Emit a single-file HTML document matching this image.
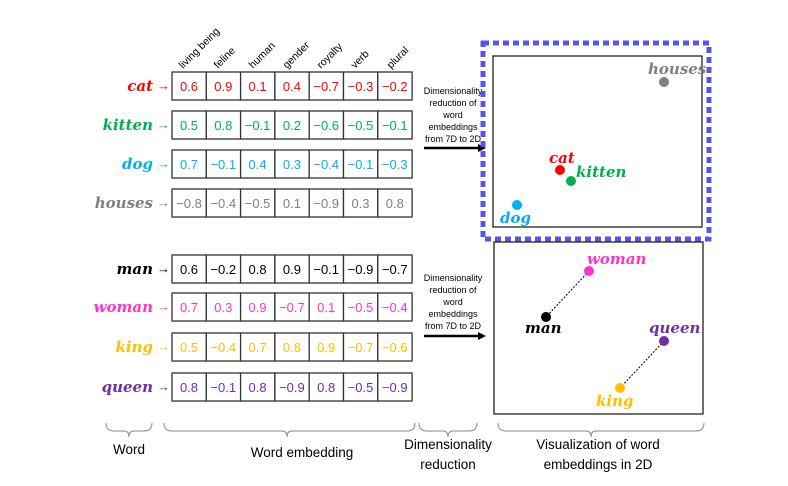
<!DOCTYPE html>
<html><head><meta charset="utf-8"><style>
body{margin:0;background:#fff}
svg{display:block}
.w{font-family:"DejaVu Serif","Liberation Serif",serif;font-weight:bold;font-style:italic;font-size:15px}
.n{font-family:"Liberation Sans",sans-serif;font-size:13px}
.h{font-family:"Liberation Sans",sans-serif;font-size:10.5px}
.s{font-family:"Liberation Sans",sans-serif;font-size:9px}
.l{font-family:"Liberation Sans",sans-serif;font-size:13.5px}
.c rect{fill:#fff;stroke:#333;stroke-width:1.3}
</style></head><body>
<svg width="788" height="486" viewBox="0 0 788 486" xmlns="http://www.w3.org/2000/svg">
<defs>
<g id="cells" class="c">
<rect x="172" y="0" width="34.3" height="28"/><rect x="206.3" y="0" width="34.3" height="28"/><rect x="240.6" y="0" width="34.3" height="28"/><rect x="274.9" y="0" width="34.3" height="28"/><rect x="309.2" y="0" width="34.3" height="28"/><rect x="343.5" y="0" width="34.3" height="28"/><rect x="377.8" y="0" width="34.3" height="28"/>
</g>
</defs>
<g class="h" fill="#000">
<text transform="translate(183,69) rotate(-45)">living being</text>
<text transform="translate(218,69) rotate(-45)">feline</text>
<text transform="translate(253,69) rotate(-45)">human</text>
<text transform="translate(287,69) rotate(-45)">gender</text>
<text transform="translate(321,69) rotate(-45)">royalty</text>
<text transform="translate(355,69) rotate(-45)">verb</text>
<text transform="translate(391,69) rotate(-45)">plural</text>
</g>

<g transform="translate(0,72)" fill="#ff0000"><use href="#cells"/>
<text class="w" x="153" y="19" text-anchor="end">cat</text><text class="n" x="157" y="18">→</text>
<g class="n" text-anchor="middle"><text x="189" y="19">0.6</text><text x="223.3" y="19">0.9</text><text x="257.6" y="19">0.1</text><text x="291.9" y="19">0.4</text><text x="326.2" y="19">−0.7</text><text x="360.5" y="19">−0.3</text><text x="394.8" y="19">−0.2</text></g></g>

<g transform="translate(0,111)" fill="#00b050"><use href="#cells"/>
<text class="w" x="153" y="19" text-anchor="end">kitten</text><text class="n" x="157" y="18">→</text>
<g class="n" text-anchor="middle"><text x="189" y="19">0.5</text><text x="223.3" y="19">0.8</text><text x="257.6" y="19">−0.1</text><text x="291.9" y="19">0.2</text><text x="326.2" y="19">−0.6</text><text x="360.5" y="19">−0.5</text><text x="394.8" y="19">−0.1</text></g></g>

<g transform="translate(0,150)" fill="#00b0f0"><use href="#cells"/>
<text class="w" x="153" y="19" text-anchor="end">dog</text><text class="n" x="157" y="18">→</text>
<g class="n" text-anchor="middle"><text x="189" y="19">0.7</text><text x="223.3" y="19">−0.1</text><text x="257.6" y="19">0.4</text><text x="291.9" y="19">0.3</text><text x="326.2" y="19">−0.4</text><text x="360.5" y="19">−0.1</text><text x="394.8" y="19">−0.3</text></g></g>

<g transform="translate(0,189)" fill="#808080"><use href="#cells"/>
<text class="w" x="153" y="19" text-anchor="end">houses</text><text class="n" x="157" y="18">→</text>
<g class="n" text-anchor="middle"><text x="189" y="19">−0.8</text><text x="223.3" y="19">−0.4</text><text x="257.6" y="19">−0.5</text><text x="291.9" y="19">0.1</text><text x="326.2" y="19">−0.9</text><text x="360.5" y="19">0.3</text><text x="394.8" y="19">0.8</text></g></g>

<g transform="translate(0,255)" fill="#000"><use href="#cells"/>
<text class="w" x="153" y="19" text-anchor="end">man</text><text class="n" x="157" y="18">→</text>
<g class="n" text-anchor="middle"><text x="189" y="19">0.6</text><text x="223.3" y="19">−0.2</text><text x="257.6" y="19">0.8</text><text x="291.9" y="19">0.9</text><text x="326.2" y="19">−0.1</text><text x="360.5" y="19">−0.9</text><text x="394.8" y="19">−0.7</text></g></g>

<g transform="translate(0,293)" fill="#ff33cc"><use href="#cells"/>
<text class="w" x="153" y="19" text-anchor="end">woman</text><text class="n" x="157" y="18">→</text>
<g class="n" text-anchor="middle"><text x="189" y="19">0.7</text><text x="223.3" y="19">0.3</text><text x="257.6" y="19">0.9</text><text x="291.9" y="19">−0.7</text><text x="326.2" y="19">0.1</text><text x="360.5" y="19">−0.5</text><text x="394.8" y="19">−0.4</text></g></g>

<g transform="translate(0,333)" fill="#ffc000"><use href="#cells"/>
<text class="w" x="153" y="19" text-anchor="end">king</text><text class="n" x="157" y="18">→</text>
<g class="n" text-anchor="middle"><text x="189" y="19">0.5</text><text x="223.3" y="19">−0.4</text><text x="257.6" y="19">0.7</text><text x="291.9" y="19">0.8</text><text x="326.2" y="19">0.9</text><text x="360.5" y="19">−0.7</text><text x="394.8" y="19">−0.6</text></g></g>

<g transform="translate(0,373)" fill="#7030a0"><use href="#cells"/>
<text class="w" x="153" y="19" text-anchor="end">queen</text><text class="n" x="157" y="18">→</text>
<g class="n" text-anchor="middle"><text x="189" y="19">0.8</text><text x="223.3" y="19">−0.1</text><text x="257.6" y="19">0.8</text><text x="291.9" y="19">−0.9</text><text x="326.2" y="19">0.8</text><text x="360.5" y="19">−0.5</text><text x="394.8" y="19">−0.9</text></g></g>

<g class="s" fill="#000" text-anchor="middle">
<text x="453" y="94">Dimensionality</text><text x="453" y="106">reduction of</text><text x="453" y="118">word</text><text x="453" y="130">embeddings</text><text x="453" y="142">from 7D to 2D</text>
<text x="453" y="281">Dimensionality</text><text x="453" y="293">reduction of</text><text x="453" y="305">word</text><text x="453" y="317">embeddings</text><text x="453" y="329">from 7D to 2D</text>
</g>
<line x1="424" y1="148" x2="480" y2="148" stroke="#000" stroke-width="2.5"/>
<polygon points="478,144 486,148 478,152" fill="#000"/>
<line x1="424" y1="336" x2="480" y2="336" stroke="#000" stroke-width="2.5"/>
<polygon points="478,332 486,336 478,340" fill="#000"/>

<rect x="483" y="43" width="226" height="196" fill="none" stroke="#5555ee" stroke-width="5" stroke-dasharray="6,4"/>
<rect x="493" y="56" width="209" height="171" fill="#fff" stroke="#222" stroke-width="1.3"/>
<circle cx="664" cy="82" r="5" fill="#808080"/><text class="w" x="648" y="74" fill="#808080">houses</text>
<circle cx="560" cy="170" r="5" fill="#ff0000"/><text class="w" x="549" y="163" fill="#ff0000">cat</text>
<circle cx="571" cy="181" r="5" fill="#00b050"/><text class="w" x="576" y="177" fill="#00b050">kitten</text>
<circle cx="517" cy="205" r="5" fill="#00b0f0"/><text class="w" x="500" y="223" fill="#00b0f0">dog</text>

<rect x="494" y="242" width="209" height="172" fill="#fff" stroke="#222" stroke-width="1.3"/>
<line x1="589" y1="271" x2="546" y2="317" stroke="#000" stroke-dasharray="2,1.5"/>
<line x1="664" y1="341" x2="620" y2="388" stroke="#000" stroke-dasharray="2,1.5"/>
<circle cx="589" cy="271" r="5" fill="#ff33cc"/><text class="w" x="587" y="264" fill="#ff33cc">woman</text>
<circle cx="546" cy="317" r="5" fill="#000"/><text class="w" x="525" y="333" fill="#000">man</text>
<circle cx="664" cy="341" r="5" fill="#7030a0"/><text class="w" x="649" y="333" fill="#7030a0">queen</text>
<circle cx="620" cy="388" r="5" fill="#ffc000"/><text class="w" x="596" y="406" fill="#ffc000">king</text>

<g fill="none" stroke="#888" stroke-width="1">
<path d="M106,423 q0,8 8,8 h10 q5,0 5,6 q0,-6 5,-6 h10 q8,0 8,-8"/>
<path d="M164,423 q0,8 8,8 h110 q5,0 5,6 q0,-6 5,-6 h115 q8,0 8,-8"/>
<path d="M419,423 q0,8 8,8 h16 q5,0 5,6 q0,-6 5,-6 h16 q8,0 8,-8"/>
<path d="M498,423 q0,8 8,8 h80 q5,0 5,6 q0,-6 5,-6 h100 q8,0 8,-8"/>
</g>
<g class="l" fill="#000" text-anchor="middle">
<text x="129" y="454">Word</text>
<text x="302" y="457">Word embedding</text>
<text x="448" y="449">Dimensionality</text><text x="448" y="469">reduction</text>
<text x="598" y="449">Visualization of word</text><text x="598" y="469">embeddings  in 2D</text>
</g>
</svg>
</body></html>
